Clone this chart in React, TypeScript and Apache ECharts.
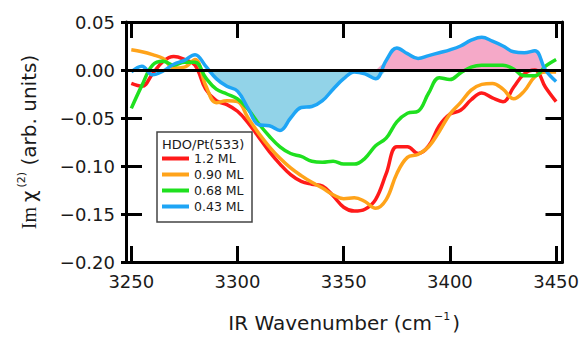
import React, { useEffect, useRef } from "react";
import * as echarts from "echarts";

// IR wavenumber grid (cm^-1)
const wavenumbers = [
  3250, 3255, 3260, 3265, 3270, 3275, 3280, 3285, 3290, 3295,
  3300, 3305, 3310, 3315, 3320, 3325, 3330, 3335, 3340, 3345,
  3350, 3355, 3360, 3365, 3370, 3375, 3380, 3385, 3390, 3395,
  3400, 3405, 3410, 3415, 3420, 3425, 3430, 3435, 3440, 3445, 3450,
];

// Im chi(2) for each coverage
const ml12 = [
  -0.014, -0.017, -0.004, 0.009, 0.014, 0.011, 0.005, -0.020, -0.032, -0.036,
  -0.043, -0.055, -0.070, -0.085, -0.098, -0.109, -0.116, -0.119, -0.121, -0.131,
  -0.143, -0.147, -0.145, -0.135, -0.108, -0.080, -0.080, -0.087, -0.079, -0.058,
  -0.046, -0.042, -0.031, -0.024, -0.029, -0.033, -0.018, -0.004, 0.000, -0.018, -0.033,
];
const ml090 = [
  0.021, 0.019, 0.016, 0.012, 0.002, 0.003, 0.011, -0.016, -0.034, -0.032,
  -0.033, -0.050, -0.066, -0.080, -0.092, -0.102, -0.110, -0.117, -0.123, -0.130,
  -0.134, -0.133, -0.137, -0.144, -0.135, -0.108, -0.091, -0.088, -0.080, -0.064,
  -0.046, -0.034, -0.021, -0.015, -0.014, -0.020, -0.030, -0.022, -0.007, -0.002, -0.002,
];
const ml068 = [
  -0.040, -0.016, 0.005, 0.009, 0.005, 0.008, 0.008, -0.008, -0.020, -0.025,
  -0.030, -0.041, -0.056, -0.069, -0.080, -0.087, -0.090, -0.095, -0.096, -0.095,
  -0.098, -0.098, -0.092, -0.079, -0.071, -0.054, -0.045, -0.043, -0.024, -0.008,
  -0.010, -0.003, 0.003, 0.005, 0.005, 0.005, 0.001, -0.006, -0.006, 0.004, 0.011,
];
const ml043 = [
  -0.002, 0.004, -0.005, -0.001, 0.006, 0.010, 0.016, 0.004, -0.009, -0.017,
  -0.022, -0.040, -0.057, -0.058, -0.063, -0.050, -0.039, -0.038, -0.032, -0.020,
  -0.009, -0.002, -0.004, -0.009, 0.010, 0.023, 0.017, 0.012, 0.015, 0.018,
  0.021, 0.025, 0.031, 0.034, 0.030, 0.025, 0.019, 0.018, 0.020, 0.000, -0.012,
];

const seriesNames = ["1.2 ML", "0.90 ML", "0.68 ML", "0.43 ML"];
const seriesColors = ["#ff1a1a", "#ffa31a", "#1fe01f", "#1ea5f5"];
const xTicks = [3250, 3300, 3350, 3400, 3450];
const legendTitle = "HDO/Pt(533)";
const negFillRange = [3285, 3370];
const posFillRange = [3365, 3445];

const FONT = "DejaVu Sans";

export default function App() {
  const ref = useRef<HTMLDivElement>(null);

  useEffect(() => {
    if (!ref.current) return;
    const chart = echarts.init(ref.current, null, { renderer: "svg" });

    const pairs = (vals: number[]) => wavenumbers.map((w, i) => [w, vals[i]]);
    const negFill = wavenumbers
      .map((w, i) => [w, Math.min(ml043[i], 0)])
      .filter(([w]) => w >= negFillRange[0] && w <= negFillRange[1]);
    const posFill = wavenumbers
      .map((w, i) => [w, Math.max(ml043[i], 0)])
      .filter(([w]) => w >= posFillRange[0] && w <= posFillRange[1]);

    const allData = [ml12, ml090, ml068, ml043];
    const xMin = 3247.5;
    const xMax = 3453;
    const yMin = -0.2;
    const yMax = 0.05;
    const fmtY = (v: number) =>
      (v < -1e-9 ? "\u2212" : "") + Math.abs(v).toFixed(2);
    const fmtX = (v: number) => String(Math.round(v));

    const frameLine = { show: true, onZero: false, lineStyle: { color: "#000", width: 3 } };

    chart.setOption({
      animation: false,
      backgroundColor: "#fff",
      grid: { left: 126, right: 19, top: 22, bottom: 74, containLabel: false },
      xAxis: [
        {
          type: "value",
          min: xMin,
          max: xMax,
          position: "bottom",
          axisLine: frameLine,
          axisTick: {
            show: true,
            inside: true,
            length: 16,
            customValues: xTicks,
            lineStyle: { color: "#000", width: 3 },
          },
          axisLabel: {
            show: true,
            customValues: xTicks,
            formatter: fmtX,
            fontSize: 18,
            fontFamily: FONT,
            color: "#1a1a1a",
            margin: 10,
          },
          splitLine: { show: false },
          name: "{a|IR Wavenumber (cm}{s|\u22121}{a|)}",
          nameLocation: "middle",
          nameGap: 49,
          nameTextStyle: {
            rich: {
              a: { fontSize: 20, fontFamily: FONT, color: "#1a1a1a", lineHeight: 24 },
              s: { fontSize: 11, fontFamily: FONT, color: "#1a1a1a", verticalAlign: "top", lineHeight: 24, padding: [0, 2, 0, 2] },
            },
          },
        },
        {
          type: "value",
          min: xMin,
          max: xMax,
          position: "top",
          axisLine: frameLine,
          axisTick: {
            show: true,
            inside: true,
            length: 16,
            customValues: xTicks,
            lineStyle: { color: "#000", width: 3 },
          },
          axisLabel: { show: false },
          splitLine: { show: false },
        },
      ],
      yAxis: [
        {
          type: "value",
          min: yMin,
          max: yMax,
          interval: 0.05,
          position: "left",
          axisLine: frameLine,
          axisTick: { show: true, inside: true, length: 16, lineStyle: { color: "#000", width: 3 } },
          axisLabel: {
            formatter: fmtY,
            fontSize: 18,
            fontFamily: FONT,
            color: "#1a1a1a",
            margin: 11,
          },
          splitLine: { show: false },
          name: "{i|Im }{c|\u03c7}{s|(2)}{a| (arb. units)}",
          nameLocation: "middle",
          nameRotate: 90,
          nameGap: 84,
          nameTextStyle: {
            rich: {
              i: { fontSize: 20, fontFamily: "Liberation Serif", color: "#1a1a1a", lineHeight: 26 },
              c: { fontSize: 20, fontFamily: FONT, color: "#1a1a1a", lineHeight: 26 },
              s: { fontSize: 11, fontFamily: FONT, color: "#1a1a1a", verticalAlign: "top", lineHeight: 26, padding: [0, 0, 0, 3] },
              a: { fontSize: 20, fontFamily: FONT, color: "#1a1a1a", lineHeight: 26 },
            },
          },
        },
        {
          type: "value",
          min: yMin,
          max: yMax,
          interval: 0.05,
          position: "right",
          axisLine: frameLine,
          axisTick: { show: true, inside: true, length: 17, lineStyle: { color: "#000", width: 3 } },
          axisLabel: { show: false },
          splitLine: { show: false },
        },
        {
          type: "value",
          min: yMin,
          max: yMax,
          interval: 0.05,
          position: "left",
          axisLine: { show: false },
          axisTick: { show: true, inside: false, length: 5, lineStyle: { color: "#000", width: 3 } },
          axisLabel: { show: false },
          splitLine: { show: false },
        },
      ],
      legend: {
        data: seriesNames,
        orient: "vertical",
        left: 162,
        top: 151,
        padding: 0,
        itemGap: 1,
        icon: "rect",
        itemWidth: 27,
        itemHeight: 4,
        textStyle: { fontSize: 12.5, fontFamily: FONT, color: "#1a1a1a", lineHeight: 15 },
        z: 6,
      },
      graphic: [
        {
          type: "rect",
          z: 5,
          shape: { x: 157, y: 132, width: 95, height: 90 },
          style: { fill: "#fff", stroke: "#444", lineWidth: 1.5 },
        },
        {
          type: "text",
          z: 6,
          x: 162,
          y: 144,
          style: {
            text: legendTitle,
            fontSize: 13,
            fontFamily: FONT,
            fill: "#1a1a1a",
            verticalAlign: "middle",
            align: "left",
          },
        },
      ],
      series: [
        {
          type: "line",
          name: "negFill",
          data: negFill,
          smooth: 0.4,
          showSymbol: false,
          symbol: "none",
          lineStyle: { width: 0, opacity: 0 },
          areaStyle: { color: "#92d3e8", opacity: 1, origin: 0 },
          z: 1,
          silent: true,
        },
        {
          type: "line",
          name: "posFill",
          data: posFill,
          smooth: 0.4,
          showSymbol: false,
          symbol: "none",
          lineStyle: { width: 0, opacity: 0 },
          areaStyle: { color: "#f5a9c8", opacity: 1, origin: 0 },
          z: 1,
          silent: true,
          markLine: {
            silent: true,
            symbol: "none",
            label: { show: false },
            lineStyle: { color: "#000", width: 3, type: "solid" },
            data: [{ yAxis: 0 }],
          },
        },
        ...seriesNames.map((name, k) => ({
          type: "line",
          name,
          data: pairs(allData[k]),
          smooth: 0.4,
          showSymbol: false,
          symbol: "none",
          color: seriesColors[k],
          lineStyle: { color: seriesColors[k], width: 3.5 },
          z: 3,
        })),
      ],
    });

    return () => chart.dispose();
  }, []);

  return (
    <div
      ref={ref}
      style={{ position: "fixed", left: 0, top: 0, width: 582, height: 338 }}
    />
  );
}
